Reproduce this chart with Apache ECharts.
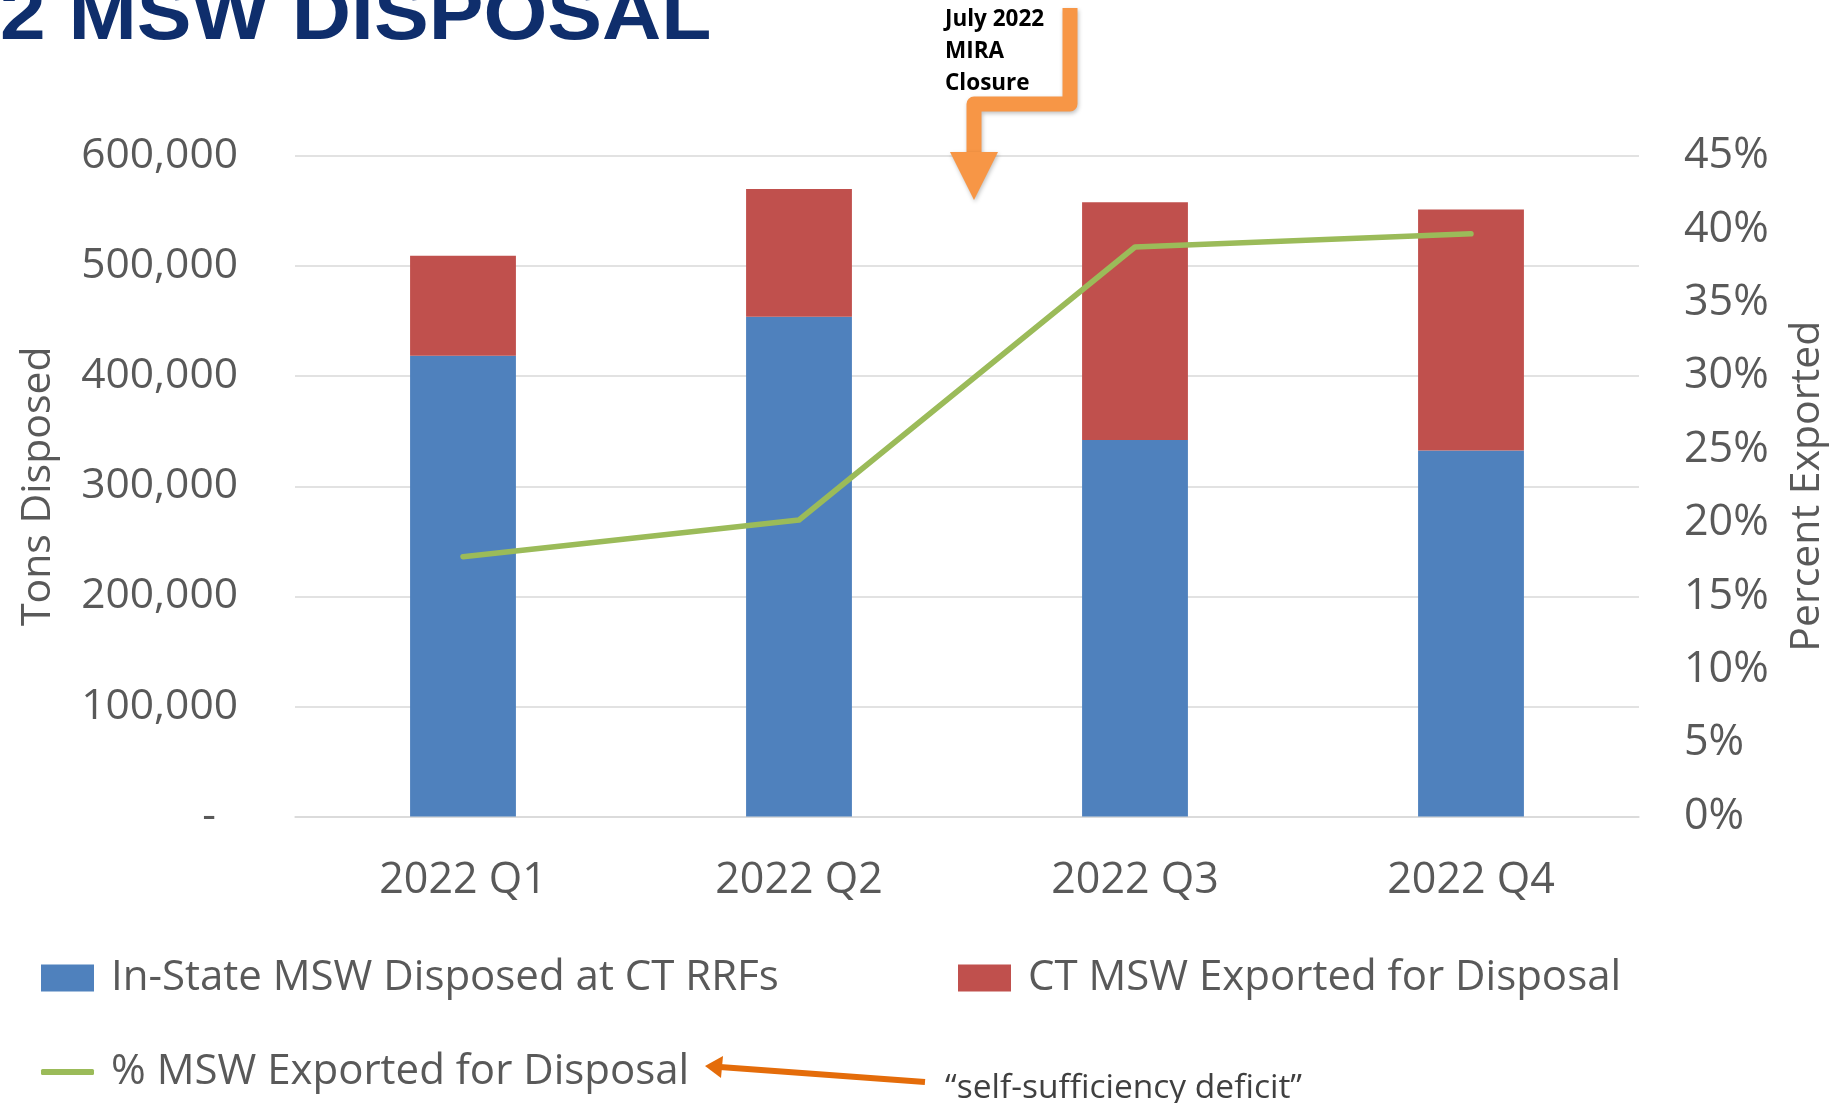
<!DOCTYPE html>
<html>
<head>
<meta charset="utf-8">
<script src="https://cdn.jsdelivr.net/npm/echarts@6/dist/echarts.min.js"></script>
<style>
html,body{margin:0;padding:0;background:#fff;}
#chart{width:1836px;height:1103px;}
</style>
</head>
<body>
<div id="chart"></div>
<script>
const categories = ['2022 Q1', '2022 Q2', '2022 Q3', '2022 Q4'];
const inStateDisposed = [418500, 454000, 342000, 332500];
const exportedDisposal = [91000, 116000, 216000, 219000];
const pctExported = [0.177, 0.202, 0.388, 0.397];
const seriesNames = ['In-State MSW Disposed at CT RRFs', 'CT MSW Exported for Disposal', '% MSW Exported for Disposal'];
const leftAxis = { min: 0, max: 600000, interval: 100000 };
const rightAxis = { min: 0, max: 0.45, interval: 0.05 };

const FONT = '"Open Sans", "Noto Sans", sans-serif';
const GRAY = '#595959';

const chart = echarts.init(document.getElementById('chart'));
const legendText = { fontFamily: FONT, fontSize: 42, color: GRAY, padding: [0, 0, 0, 12] };

chart.setOption({
  animation: false,
  backgroundColor: '#ffffff',
  grid: { left: 295, top: 156, width: 1347, height: 660.5, containLabel: false },
  legend: [
    { data: [seriesNames[0]], left: 41, top: 957, padding: 0, itemWidth: 53, itemHeight: 27, icon: 'rect', textStyle: legendText },
    { data: [seriesNames[1]], left: 958, top: 957, padding: 0, itemWidth: 53, itemHeight: 27, icon: 'rect', textStyle: legendText },
    { data: [seriesNames[2]], left: 41, top: 1051, padding: 0, itemWidth: 53, itemHeight: 6, icon: 'roundRect', textStyle: legendText }
  ],
  xAxis: {
    type: 'category',
    data: categories,
    axisLine: { show: true, lineStyle: { color: '#d9d9d9', width: 1.5 } },
    axisTick: { show: false },
    axisLabel: { fontFamily: FONT, fontSize: 43, color: GRAY, margin: 43 },
    splitLine: { show: false }
  },
  yAxis: [
    {
      type: 'value', min: leftAxis.min, max: leftAxis.max, interval: leftAxis.interval,
      name: 'Tons Disposed', nameLocation: 'middle', nameRotate: 90, nameGap: 236, nameMoveOverlap: false,
      nameTextStyle: { fontFamily: FONT, fontSize: 41, color: GRAY },
      axisLine: { show: false }, axisTick: { show: false },
      axisLabel: {
        fontFamily: FONT, fontSize: 42.5, color: GRAY, margin: 57,
        formatter: v => v === 0 ? '-  ' : v.toLocaleString('en-US')
      },
      splitLine: { show: true, lineStyle: { color: '#d9d9d9', width: 1.5 } }
    },
    {
      type: 'value', min: rightAxis.min, max: rightAxis.max, interval: rightAxis.interval,
      name: 'Percent Exported', nameLocation: 'middle', nameRotate: 90, nameGap: 148, nameMoveOverlap: false,
      nameTextStyle: { fontFamily: FONT, fontSize: 41, color: GRAY },
      axisLine: { show: false }, axisTick: { show: false },
      axisLabel: {
        fontFamily: FONT, fontSize: 43, color: GRAY, margin: 45,
        formatter: v => Math.round(v * 100) + '%'
      },
      splitLine: { show: false }
    }
  ],
  series: [
    {
      name: seriesNames[0], type: 'bar', stack: 'tons', data: inStateDisposed,
      barWidth: '31.5%', itemStyle: { color: '#4f81bd' }
    },
    {
      name: seriesNames[1], type: 'bar', stack: 'tons', data: exportedDisposal,
      barWidth: '31.5%', itemStyle: { color: '#c0504d' }
    },
    {
      name: seriesNames[2], type: 'line', yAxisIndex: 1, data: pctExported,
      showSymbol: false, symbol: 'none', itemStyle: { color: '#9bbb59' },
      lineStyle: { color: '#9bbb59', width: 5.5, cap: 'round', join: 'round' }, z: 5
    }
  ],
  graphic: [
    {
      type: 'text', left: 0, top: -20,
      style: { text: '2 MSW DISPOSAL', fontFamily: '"Liberation Sans", Arial, sans-serif', fontWeight: 'bold', fontSize: 76, fill: '#0f2e6c' },
      scaleX: 1.08
    },
    {
      type: 'text', left: 945, top: 4,
      style: { text: 'July 2022\nMIRA\nClosure', fontFamily: FONT, fontWeight: 'bold', fontSize: 22.5, lineHeight: 32, fill: '#000' }
    },
    {
      type: 'polyline',
      shape: { points: [[1070, 8], [1070, 104], [974, 104], [974, 154]] },
      style: { stroke: '#f79646', lineWidth: 15, lineJoin: 'round', fill: null, shadowBlur: 4, shadowColor: 'rgba(0,0,0,0.25)', shadowOffsetX: 1, shadowOffsetY: 2 },
      z: 10
    },
    {
      type: 'polygon',
      shape: { points: [[950, 152], [998, 152], [974, 200]] },
      style: { fill: '#f79646', shadowBlur: 4, shadowColor: 'rgba(0,0,0,0.25)', shadowOffsetX: 1, shadowOffsetY: 2 },
      z: 10
    },
    {
      type: 'line',
      shape: { x1: 925, y1: 1082, x2: 720, y2: 1067 },
      style: { stroke: '#e46c0a', lineWidth: 6 },
      z: 10
    },
    {
      type: 'polygon',
      shape: { points: [[705, 1066], [723, 1056], [721, 1078]] },
      style: { fill: '#e46c0a' },
      z: 10
    },
    {
      type: 'text', left: 945, top: 1071,
      style: { text: '\u201cself-sufficiency deficit\u201d', fontFamily: FONT, fontSize: 33.5, fill: '#404040' }
    }
  ]
});
</script>
</body>
</html>
